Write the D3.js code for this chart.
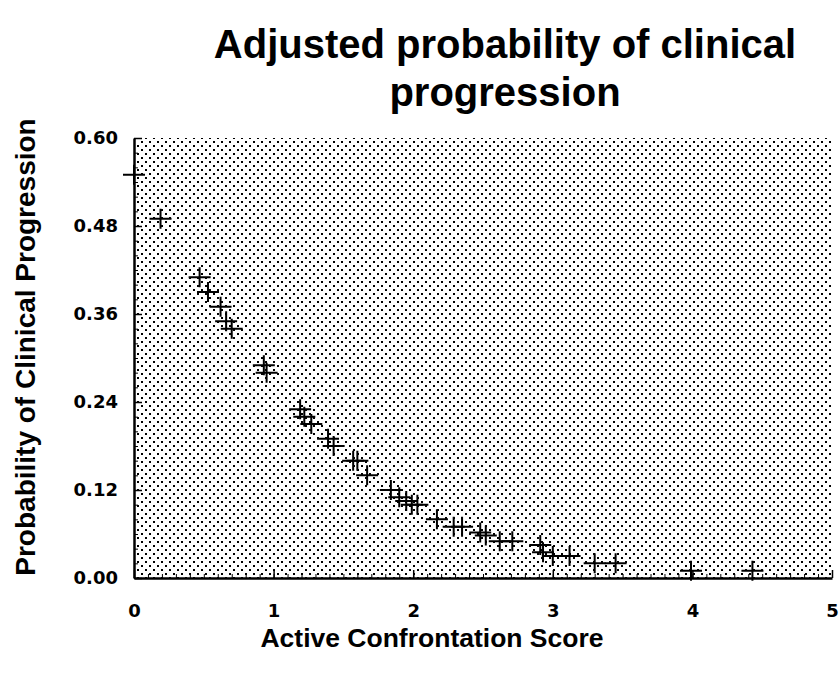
<!DOCTYPE html>
<html>
<head>
<meta charset="utf-8">
<script src="https://cdn.jsdelivr.net/npm/d3@7"></script>
<style>
  body { margin: 0; background: #fff; }
  svg text { font-family: "Liberation Sans", Arial, sans-serif; font-weight: bold; fill: #000; }
</style>
</head>
<body>
<svg id="chart"></svg>
<script>
// Data
const scores = [0.00, 0.19, 0.47, 0.53, 0.62, 0.66, 0.70, 0.93, 0.95,
    1.19, 1.22, 1.27, 1.39, 1.43, 1.57, 1.60, 1.67, 1.84, 1.90, 1.95,
    1.99, 2.03, 2.17, 2.29, 2.35, 2.48, 2.52, 2.62, 2.71, 2.91, 2.93,
    3.00, 3.12, 3.30, 3.45, 3.99, 4.43];
const probs = [0.55, 0.49, 0.41, 0.39, 0.37, 0.35, 0.34, 0.29, 0.28,
    0.23, 0.22, 0.21, 0.19, 0.18, 0.16, 0.16, 0.14, 0.12, 0.11, 0.105,
    0.10, 0.10, 0.08, 0.07, 0.07, 0.062, 0.058, 0.05, 0.05, 0.045, 0.035,
    0.03, 0.03, 0.02, 0.02, 0.01, 0.01];
const xTicks = [0, 1, 2, 3, 4, 5];
const yTicks = [0, 0.12, 0.24, 0.36, 0.48, 0.60];
const titleLines = ["Adjusted probability of clinical", "progression"];

const W = 839, H = 683;
const margin = { top: 138, right: 7, bottom: 105, left: 134 };
const width = W - margin.left - margin.right;
const height = H - margin.top - margin.bottom;

const svg = d3.select("#chart").attr("width", W).attr("height", H);

// dotted fill like the old halftone background
const defs = svg.append("defs");
const pat = defs.append("pattern")
    .attr("id", "dots")
    .attr("patternUnits", "userSpaceOnUse")
    .attr("x", margin.left).attr("y", margin.top)
    .attr("width", 8).attr("height", 8);
pat.append("rect").attr("x", 1).attr("y", 1).attr("width", 2).attr("height", 2).attr("fill", "#000");
pat.append("rect").attr("x", 5).attr("y", 5).attr("width", 2).attr("height", 2).attr("fill", "#000");

const g = svg.append("g")
    .attr("transform", "translate(" + margin.left + "," + margin.top + ")");

const x = d3.scaleLinear().domain([0, 5]).range([0, width]);
const y = d3.scaleLinear().domain([0, 0.6]).range([height, 0]);

g.append("rect")
    .attr("width", width)
    .attr("height", height)
    .attr("fill", "url(#dots)");

// minor ticks (inward)
g.append("g")
    .attr("transform", "translate(0," + height + ")")
    .call(d3.axisTop(x).tickValues(d3.range(0, 5.001, 0.1)).tickSize(4).tickFormat(""))
    .call(a => a.select(".domain").remove());
g.append("g")
    .call(d3.axisRight(y).tickValues(d3.range(0, 0.601, 0.02)).tickSize(4).tickFormat(""))
    .call(a => a.select(".domain").remove());

// major ticks
const xAxis = g.append("g")
    .attr("transform", "translate(0," + height + ")")
    .call(d3.axisBottom(x).tickValues(xTicks).tickSizeInner(-8).tickSizeOuter(0).tickPadding(26).tickFormat(d3.format("d")));
xAxis.select(".domain").attr("stroke-width", 2.5);
xAxis.selectAll(".tick line").attr("stroke-width", 1.5);

const yAxis = g.append("g")
    .call(d3.axisLeft(y).tickValues(yTicks).tickSizeInner(-8).tickSizeOuter(0).tickPadding(16).tickFormat(d3.format(".2f")));
yAxis.select(".domain").attr("stroke-width", 2.5);
yAxis.selectAll(".tick line").attr("stroke-width", 1.5);

svg.selectAll(".tick text")
    .attr("fill", "#000")
    .style("font-family", "'DejaVu Sans', sans-serif")
    .style("font-weight", "bold")
    .style("font-size", "18px");

// plus markers
g.selectAll(".pt")
    .data(scores.map((s, i) => ({ s: s, p: probs[i] })))
    .enter().append("path")
    .attr("class", "pt")
    .attr("transform", d => "translate(" + x(d.s) + "," + y(d.p) + ")")
    .attr("d", "M-11,0H11M0,-10V10")
    .attr("stroke", "#000")
    .attr("stroke-width", 2)
    .attr("fill", "none");

// title
svg.selectAll(".title")
    .data(titleLines)
    .enter().append("text")
    .attr("class", "title")
    .attr("x", 505)
    .attr("y", (d, i) => 58 + i * 48)
    .attr("text-anchor", "middle")
    .style("font-size", "40px")
    .text(d => d);

// axis labels
svg.append("text")
    .attr("x", 432)
    .attr("y", 647)
    .attr("text-anchor", "middle")
    .style("font-size", "26.5px")
    .text("Active Confrontation Score");

svg.append("text")
    .attr("transform", "translate(35,347) rotate(-90)")
    .attr("text-anchor", "middle")
    .style("font-size", "28px")
    .text("Probability of Clinical Progression");
</script>
</body>
</html>
